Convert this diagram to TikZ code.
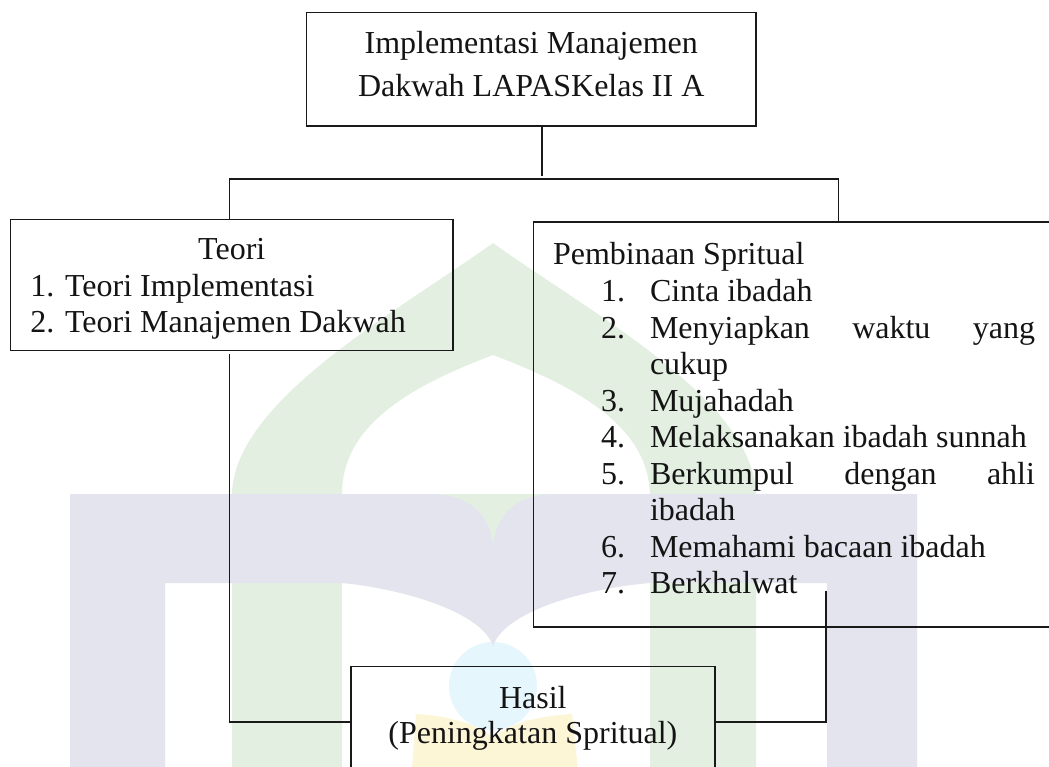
\documentclass[tikz,border=0pt]{standalone}
\usepackage{fontspec}
\setmainfont{Liberation Serif}
\definecolor{wmgreen}{RGB}{227,240,225}
\definecolor{wmlav}{RGB}{228,228,239}
\definecolor{wmcyan}{RGB}{229,246,252}
\definecolor{wmyellow}{RGB}{252,245,214}
\begin{document}
\begin{tikzpicture}[x=1pt,y=-1pt,
  box/.style={draw=black!90, line width=1.8pt, inner sep=0pt, outer sep=0pt},
  link/.style={draw=black!90, line width=1.3pt},
  txt/.style={inner sep=0pt, outer sep=0pt, font=\fontsize{32}{36.5}\selectfont, text=black!92},
  lft/.style={txt, anchor=base west},
  ctr/.style={txt, anchor=base}]
\useasboundingbox (0,0) rectangle (1049,767);
\fill[white] (0,0) rectangle (1049,767);
\clip (0,0) rectangle (1049,767);

% ---- watermark ----
\fill[wmgreen] (232,770) -- (232,494) .. controls (234,400) and (400,310) .. (493,243)
  .. controls (586,310) and (754,400) .. (756,494) -- (756,770) -- (650,770) -- (650,494)
  .. controls (648,430) and (586,390) .. (493,355)
  .. controls (400,390) and (342,430) .. (342,494) -- (342,770) -- cycle;
\fill[wmgreen] (425,494) -- (561,494) -- (493,550) -- cycle;
\fill[wmcyan] (493,686) circle (44);
\fill[wmyellow] (412,770) -- (416,714) .. controls (450,716) and (480,725) .. (493,738)
  .. controls (506,725) and (536,716) .. (572,714) -- (578,770) -- cycle;
\fill[wmlav] (70,770) -- (70,494) -- (430,494) .. controls (470,494) and (490,515) .. (493,546)
  .. controls (496,515) and (516,494) .. (556,494) -- (917,494) -- (917,770) -- (827,770)
  -- (827,583) -- (650,583) .. controls (590,588) and (505,610) .. (493,646)
  .. controls (481,610) and (396,588) .. (342,583) -- (165,583) -- (165,770) -- cycle;

% ---- boxes ----
\node[box, minimum width=449.5pt, minimum height=113.5pt] (top) at (531.25,69.25) {};
\node[box, minimum width=442.5pt, minimum height=131pt] (teori) at (231.75,285) {};
\node[box, minimum width=536.5pt, minimum height=405pt] (pemb) at (801.75,424.5) {};
\node[box, minimum width=364.3pt, minimum height=108.5pt] (hasil) at (532.85,720.75) {};

% ---- texts ----
\node[ctr] (t1) at (531.25,53.5) {Implementasi Manajemen};
\node[ctr] (t2) at (531.25,96.5) {Dakwah LAPASKelas II A};

\node[ctr] (teorih) at (231.75,259.5) {Teori};
\node[lft] (teori1) at (30.5,296) {1. Teori Implementasi};
\node[lft] (teori2) at (30.5,332.5) {2. Teori Manajemen Dakwah};

\node[lft] (ph) at (553,265) {Pembinaan Spritual};
\node[lft] (n1) at (601,301.5) {1.};
\node[lft] (i1) at (650,301.5) {Cinta ibadah};
\node[lft] (n2) at (601,338) {2.};
\node[lft] (i2) at (650,338) {\hbox to 385pt{Menyiapkan\hfill waktu\hfill yang}};
\node[lft] (i2b) at (650,374.5) {cukup};
\node[lft] (n3) at (601,411) {3.};
\node[lft] (i3) at (650,411) {Mujahadah};
\node[lft] (n4) at (601,447.5) {4.};
\node[lft] (i4) at (650,447.5) {Melaksanakan ibadah sunnah};
\node[lft] (n5) at (601,484) {5.};
\node[lft] (i5) at (650,484) {\hbox to 385pt{Berkumpul\hfill dengan\hfill ahli}};
\node[lft] (i5b) at (650,520.5) {ibadah};
\node[lft] (n6) at (601,557) {6.};
\node[lft] (i6) at (650,557) {Memahami bacaan ibadah};
\node[lft] (n7) at (601,593.5) {7.};
\node[lft] (i7) at (650,593.5) {Berkhalwat};

\node[ctr] (h1) at (532.85,708) {Hasil};
\node[ctr] (h2) at (532.85,743.5) {(Peningkatan Spritual)};

% ---- connectors ----
\coordinate (jtop) at (542,176);
\coordinate (jl) at (229.5,179);
\coordinate (jr) at (838.5,179);
\coordinate (jbl) at (229.5,722);
\coordinate (rtop) at (826,590.5);
\coordinate (jbr) at (826,722);
\draw[link] (top.south -| jtop) -- (jtop);
\draw[link] (teori.north -| jl) -- (jl) -- (jr) -- (pemb.north -| jr);
\draw[link] ([yshift=-3pt]teori.south -| jbl) -- (jbl) -- (hasil.west |- jbl);
\draw[link] (rtop) -- (jbr) -- (hasil.east |- jbr);
\end{tikzpicture}
\end{document}
